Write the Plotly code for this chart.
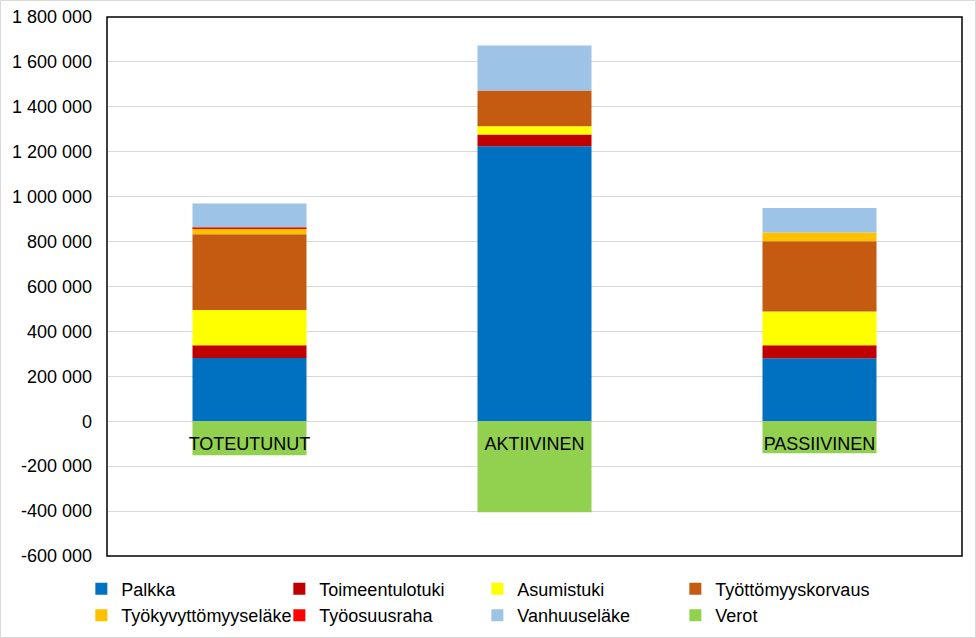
import plotly.graph_objects as go

categories = ["TOTEUTUNUT", "AKTIIVINEN", "PASSIIVINEN"]

palkka = [282000, 1224000, 280000]
toimeentulotuki = [56000, 53000, 58000]
asumistuki = [157000, 36000, 151000]
tyottomyyskorvaus = [338000, 160000, 312000]
tyokyvyttomyyselake = [27000, 0, 40000]
tyoosuusraha = [3000, 0, 0]
vanhuuselake = [107000, 200000, 108000]
verot = [-151000, -405000, -142000]

tick_vals = [-600000, -400000, -200000, 0, 200000, 400000, 600000, 800000,
             1000000, 1200000, 1400000, 1600000, 1800000]
tick_text = ["-600 000", "-400 000", "-200 000", "0", "200 000", "400 000",
             "600 000", "800 000", "1 000 000", "1 200 000", "1 400 000",
             "1 600 000", "1 800 000"]

series = [
    ("Palkka", palkka, "#0070C0"),
    ("Toimeentulotuki", toimeentulotuki, "#C00000"),
    ("Asumistuki", asumistuki, "#FFFF00"),
    ("Työttömyyskorvaus", tyottomyyskorvaus, "#C55A11"),
    ("Työkyvyttömyyseläke", tyokyvyttomyyselake, "#FFC000"),
    ("Työosuusraha", tyoosuusraha, "#FF0000"),
    ("Vanhuuseläke", vanhuuselake, "#9DC3E6"),
    ("Verot", verot, "#92D050"),
]

fig = go.Figure()
for name, vals, col in series:
    fig.add_trace(go.Bar(x=categories, y=vals, name=name,
                         marker=dict(color=col, line=dict(width=0))))

W, H = 976, 638
L, R, T, B = 107, 14, 17, 82
pw, ph = W - L - R, H - T - B

fig.update_layout(
    width=W, height=H,
    margin=dict(l=L, r=R, t=T, b=B, autoexpand=False),
    barmode="relative",
    bargap=0.6,
    plot_bgcolor="white",
    paper_bgcolor="white",
    font=dict(family="Liberation Sans, Arial, sans-serif", size=18, color="black"),
    showlegend=True,
    legend=dict(
        orientation="h",
        x=-0.03, xanchor="left",
        y=-0.027, yanchor="top",
        entrywidth=153, entrywidthmode="pixels",
        traceorder="normal",
        font=dict(size=18),
        itemclick=False,
    ),
    xaxis=dict(
        anchor="free", position=0.25,
        showline=False, ticks="", showgrid=False,
        tickfont=dict(size=18), automargin=False,
        ticklabelstandoff=10,
    ),
    yaxis=dict(
        range=[-600000, 1800000],
        tickvals=tick_vals, ticktext=tick_text,
        showgrid=True, gridcolor="#D9D9D9", gridwidth=1,
        zeroline=True, zerolinecolor="#D9D9D9", zerolinewidth=1,
        showline=False, ticks="",
        tickfont=dict(size=18), automargin=False,
        ticklabelstandoff=14,
    ),
    shapes=[
        dict(type="rect", xref="paper", yref="paper", x0=0, x1=1, y0=0, y1=1,
             line=dict(color="black", width=1.5), fillcolor="rgba(0,0,0,0)", layer="above"),
        dict(type="rect", xref="paper", yref="paper",
             x0=-(L - 0.5) / pw, x1=1 + (R - 0.5) / pw,
             y0=-(B - 0.5) / ph, y1=1 + (T - 0.5) / ph,
             line=dict(color="#D9D9D9", width=1), fillcolor="rgba(0,0,0,0)"),
    ],
)

fig.write_html(
    "out.html",
    config={"displayModeBar": False},
    post_script="document.body.style.margin='0';document.body.style.overflow='hidden';",
)
